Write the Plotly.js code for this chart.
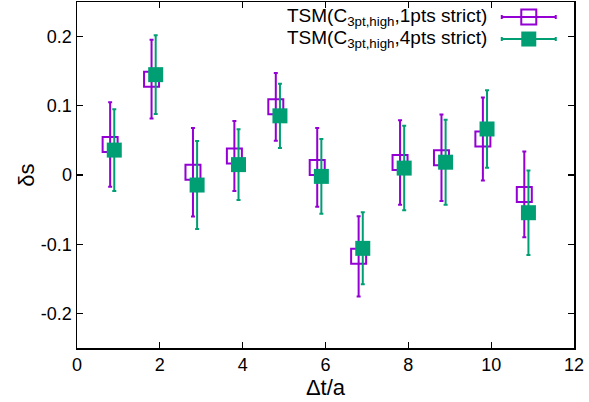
<!DOCTYPE html>
<html>
<head>
<meta charset="utf-8">
<script src="https://cdn.plot.ly/plotly-3.0.1.min.js"></script>
<style>html,body{margin:0;padding:0;background:#fff;}#chart{width:589px;height:402px;}</style>
</head>
<body>
<div id="chart"></div>
<script>
// ---- data ----
const seriesNames = ["TSM(C<sub>3pt,high</sub>,1pts strict)", "TSM(C<sub>3pt,high</sub>,4pts strict)"];
const x1pts = [0.8, 1.8, 2.8, 3.8, 4.8, 5.8, 6.8, 7.8, 8.8, 9.8, 10.8];
const y1pts = [0.044, 0.1385, 0.004, 0.0275, 0.0985, 0.011, -0.1175, 0.018, 0.025, 0.052, -0.028];
const e1pts = [0.061, 0.057, 0.064, 0.0505, 0.049, 0.057, 0.058, 0.061, 0.0625, 0.060, 0.062];
const x4pts = [0.9, 1.9, 2.9, 3.9, 4.9, 5.9, 6.9, 7.9, 8.9, 9.9, 10.9];
const y4pts = [0.036, 0.145, -0.0145, 0.015, 0.0855, -0.002, -0.106, 0.010, 0.0185, 0.0665, -0.0545];
const e4pts = [0.059, 0.057, 0.0635, 0.051, 0.0465, 0.054, 0.052, 0.061, 0.0615, 0.056, 0.061];
const xTicks = [0, 2, 4, 6, 8, 10, 12];
const yTicks = [-0.2, -0.1, 0, 0.1, 0.2];
const yTickText = ["-0.2", "-0.1", "0", "0.1", "0.2"];

const purple = "#9400D3", green = "#009E73";
const fontFam = "Liberation Sans, Arial, sans-serif";

// legend key layout (paper-like coordinates on an overlay axis)
const legendKey = {x: 0.909, halfLen: 0.0543, rows: [0.957, 0.893], textX: 0.829};

const traces = [
  {x: x1pts, y: y1pts, type: "scatter", mode: "markers", name: seriesNames[0],
   marker: {symbol: "square-open", size: 15, color: purple, line: {color: purple, width: 2}},
   error_y: {type: "data", array: e1pts, visible: true, color: purple, thickness: 2, width: 2},
   showlegend: false},
  {x: x4pts, y: y4pts, type: "scatter", mode: "markers", name: seriesNames[1],
   marker: {symbol: "square", size: 15, color: green, line: {width: 0}},
   error_y: {type: "data", array: e4pts, visible: true, color: green, thickness: 2, width: 2},
   showlegend: false},
  // legend keys
  {x: [legendKey.x], y: [legendKey.rows[0]], xaxis: "x2", yaxis: "y2", type: "scatter", mode: "markers",
   marker: {symbol: "square-open", size: 15, color: purple, line: {color: purple, width: 2}},
   error_x: {type: "data", array: [legendKey.halfLen], visible: true, color: purple, thickness: 2, width: 2},
   showlegend: false, hoverinfo: "skip"},
  {x: [legendKey.x], y: [legendKey.rows[1]], xaxis: "x2", yaxis: "y2", type: "scatter", mode: "markers",
   marker: {symbol: "square", size: 15, color: green, line: {width: 0}},
   error_x: {type: "data", array: [legendKey.halfLen], visible: true, color: green, thickness: 2, width: 2},
   showlegend: false, hoverinfo: "skip"}
];

const axisCommon = {
  showgrid: false, zeroline: false, showline: true, linecolor: "#000", linewidth: 1.5,
  mirror: "ticks", ticks: "inside", ticklen: 6, tickwidth: 1.2, tickcolor: "#000",
  tickfont: {family: fontFam, size: 18, color: "#000"}
};

const layout = {
  width: 589, height: 402,
  margin: {l: 77, r: 15, t: 2, b: 54},
  paper_bgcolor: "#fff", plot_bgcolor: "#fff",
  font: {family: fontFam, size: 18, color: "#000"},
  xaxis: Object.assign({}, axisCommon, {range: [0, 12], tickvals: xTicks, ticktext: xTicks.map(String),
    title: {text: "Δt/a", font: {family: fontFam, size: 22}, standoff: 4}}),
  yaxis: Object.assign({}, axisCommon, {range: [-0.25, 0.25], tickvals: yTicks, ticktext: yTickText,
    title: {text: "δs", font: {family: fontFam, size: 22}, standoff: 0}}),
  xaxis2: {overlaying: "x", range: [0, 1], visible: false, fixedrange: true},
  yaxis2: {overlaying: "y", range: [0, 1], visible: false, fixedrange: true},
  showlegend: false,
  annotations: seriesNames.map((t, i) => ({
    text: t, xref: "paper", yref: "paper", x: legendKey.textX, y: legendKey.rows[i],
    xanchor: "right", yanchor: "middle", showarrow: false,
    font: {family: fontFam, size: 19, color: "#000"}
  }))
};

Plotly.newPlot("chart", traces, layout, {staticPlot: true, displayModeBar: false});
</script>
</body>
</html>
